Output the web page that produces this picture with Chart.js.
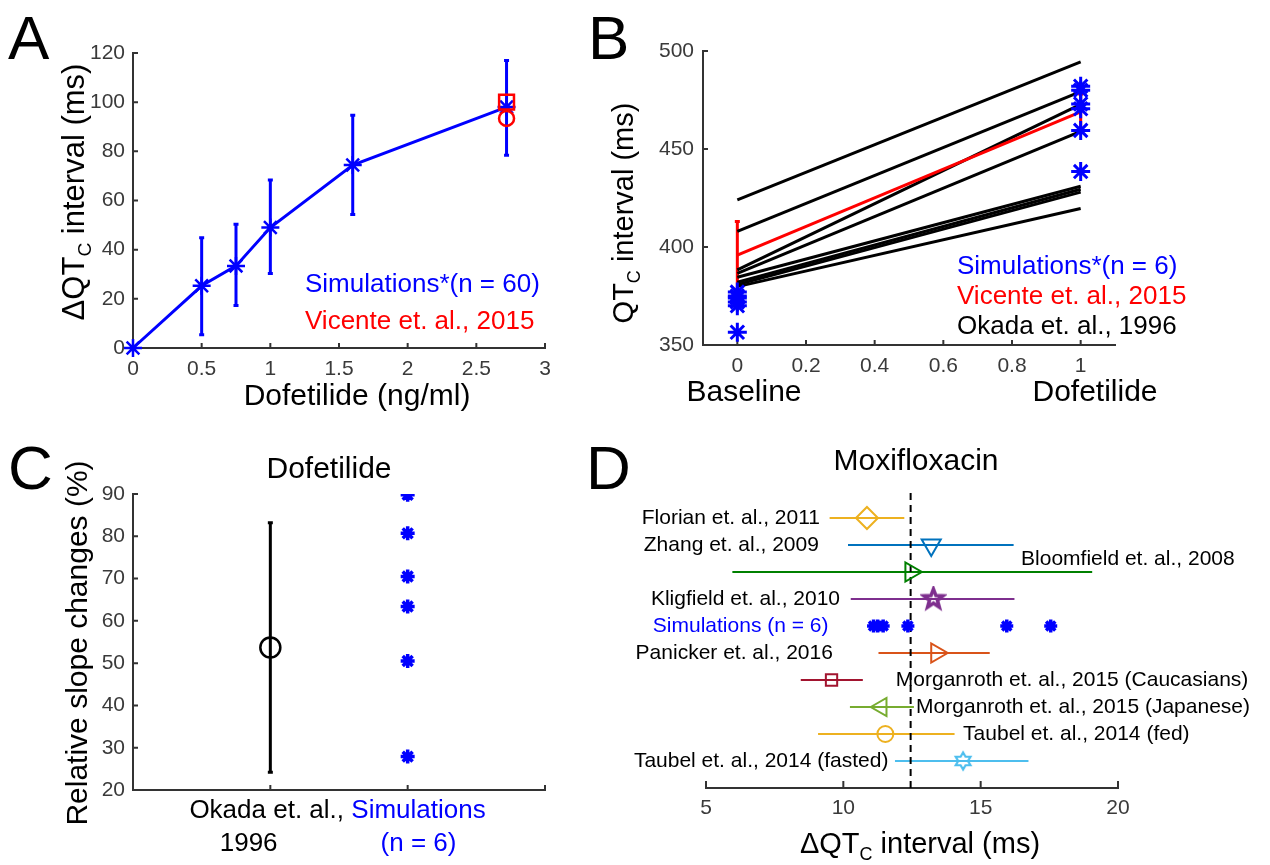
<!DOCTYPE html>
<html>
<head>
<meta charset="utf-8">
<script src="https://cdn.jsdelivr.net/npm/chart.js@4.4.1/dist/chart.umd.min.js"></script>
<style>
  html, body { margin: 0; padding: 0; background: #fff; }
  #wrap { position: relative; width: 1270px; height: 865px; overflow: hidden; }
  #wrap canvas { position: absolute; left: 0; top: 0; }
</style>
</head>
<body>
<div id="wrap">
  <canvas id="chartA" width="1270" height="865"></canvas>
  <canvas id="chartB" width="1270" height="865"></canvas>
  <canvas id="chartC" width="1270" height="865"></canvas>
  <canvas id="chartD" width="1270" height="865"></canvas>
</div>
<script>
// ---- Panel A: dofetilide dose response ----
const concA = [0, 0.5, 0.75, 1, 1.6, 2.72];
const dqtcA = [0, 25.3, 33.4, 49, 74.4, 98];
const dqtcLowA = [0, 5.4, 17.3, 30.3, 54.3, 78.4];
const dqtcHighA = [0, 44.8, 50.3, 68.3, 94.7, 117];
const vicenteConcA = 2.72;
const vicenteSquareA = 100;
const vicenteCircleA = 93.4;
const ticksAx = [0, 0.5, 1, 1.5, 2, 2.5, 3];
const ticksAy = [0, 20, 40, 60, 80, 100, 120];

// ---- Panel B: baseline vs dofetilide ----
const phaseB = [0, 1];
const simBaseB = [377, 375, 374, 372, 370, 356.5];
const simDofB = [482, 480, 473, 470.5, 459.5, 438.5];
const vicenteB = [395.8, 469];
const vicenteLowB = [378, 460];
const vicenteHighB = [413, 478];
const okadaBaseB = [424, 408, 388.3, 386.6, 384.6, 382, 380.8, 379.8];
const okadaDofB = [494.5, 479.3, 472.8, 459, 431, 429.5, 428, 419.6];
const ticksBx = [0, 0.2, 0.4, 0.6, 0.8, 1];
const ticksBy = [350, 400, 450, 500];

// ---- Panel C: relative slope changes ----
// padded like the original tick labels so the lines sit where they do there
const groupsC = [['Okada et. al., ', '1996      '], ['   Simulations', '   (n = 6)']];
const okadaSlopeC = 53.7;
const okadaLowC = 24.2;
const okadaHighC = 83.2;
const simSlopeC = [89.8, 80.7, 70.5, 63.4, 50.5, 27.9];
const ticksCx = [0, 1, 2, 3];
const ticksCy = [20, 30, 40, 50, 60, 70, 80, 90];

// ---- Panel D: moxifloxacin studies ----
const rowsD = ['Florian et. al., 2011', 'Zhang et. al., 2009', 'Bloomfield et. al., 2008',
  'Kligfield et. al., 2010', 'Simulations (n = 6)', 'Panicker et. al., 2016',
  'Morganroth et. al., 2015 (Caucasians)', 'Morganroth et. al., 2015 (Japanese)',
  'Taubel et. al., 2014 (fed)', 'Taubel et. al., 2014 (fasted)'];
const studiesD = ['Florian et. al., 2011', 'Zhang et. al., 2009', 'Bloomfield et. al., 2008',
  'Kligfield et. al., 2010', 'Panicker et. al., 2016', 'Morganroth et. al., 2015 (Caucasians)',
  'Morganroth et. al., 2015 (Japanese)', 'Taubel et. al., 2014 (fed)', 'Taubel et. al., 2014 (fasted)'];
const meanD = [10.86, 13.2, 12.46, 13.28, 13.4, 9.57, 11.38, 11.53, 14.36];
const lowD = [9.5, 10.17, 5.96, 10.27, 11.28, 8.45, 10.24, 9.08, 11.88];
const highD = [12.22, 16.2, 19.06, 16.23, 15.33, 10.71, 12.57, 14.05, 16.74];
const simMoxiD = [11.1, 11.25, 11.45, 12.35, 15.95, 17.55];
const refLineD = 12.45;
const ticksDx = [5, 10, 15, 20];

// ---- look ----
const W = 1270, H = 865;
const FONT = '"Liberation Sans", Arial, Helvetica, sans-serif';
const AXIS = '#333333', TICK = '#3a3a3a';
const BLUE = '#0000ff', RED = '#ff0000', BLACK = '#000000';

Chart.defaults.font.family = FONT;
Chart.defaults.animation = false;
Chart.defaults.events = [];
Chart.defaults.plugins.legend.display = false;
Chart.defaults.plugins.tooltip.enabled = false;

// marker images for the study markers that Chart.js does not have
function starImage(points, outer, inner, color, lw) {
  const size = Math.ceil(2 * (outer + lw));
  const c = document.createElement('canvas');
  c.width = c.height = size;
  const g = c.getContext('2d');
  g.translate(size / 2, size / 2);
  g.beginPath();
  for (let i = 0; i < points * 2; i++) {
    const r = i % 2 ? inner : outer;
    const a = -Math.PI / 2 + i * Math.PI / points;
    if (i) g.lineTo(r * Math.cos(a), r * Math.sin(a)); else g.moveTo(r * Math.cos(a), r * Math.sin(a));
  }
  g.closePath();
  g.strokeStyle = color;
  g.lineWidth = lw;
  g.stroke();
  return c;
}

const styleD = [
  { color: '#EDB120', style: 'rectRot', r: 11 },
  { color: '#0072BD', style: 'triangle', rot: 180, r: 11 },
  { color: '#008000', style: 'triangle', rot: 90, r: 11 },
  { color: '#7E2F8E', style: starImage(5, 10, 4.2, '#7E2F8E', 3.5), r: 9 },
  { color: '#D95319', style: 'triangle', rot: 90, r: 11 },
  { color: '#A2142F', style: 'rect', r: 8 },
  { color: '#77AC30', style: 'triangle', rot: 270, r: 10.5 },
  { color: '#EDB120', style: 'circle', r: 8 },
  { color: '#4DBEEE', style: starImage(6, 8.5, 4.9, '#4DBEEE', 2.2), r: 8 }
];
// where each row label sits (data units) and which side of it the text goes
const labelAnchorD = [
  { x: 9.15, dy: 0, align: 'right' },
  { x: 9.11, dy: 0, align: 'right' },
  { x: 16.47, dy: 0.48, align: 'left' },
  { x: 9.88, dy: 0, align: 'right' },
  { x: 9.46, dy: 0, align: 'right' },
  { x: 9.62, dy: 0, align: 'right' },
  { x: 11.91, dy: 0, align: 'left' },
  { x: 12.65, dy: 0, align: 'left' },
  { x: 14.36, dy: 0, align: 'left' },
  { x: 11.64, dy: 0, align: 'right' }
];

// ---- helpers ----
function font(size) { return size + 'px ' + FONT; }

function drawText(ctx, parts, x, y, o) {
  const size = o.size;
  ctx.save();
  ctx.translate(x, y);
  if (o.rotate) ctx.rotate(o.rotate);
  ctx.fillStyle = o.color || BLACK;
  ctx.textBaseline = o.baseline || 'middle';
  ctx.textAlign = 'left';
  const segs = (typeof parts === 'string' ? [{ t: parts }] : parts).map(p => {
    const s = p.sub ? size * 0.62 : size;
    ctx.font = font(s);
    return { t: p.t, s: s, dy: p.sub ? size * 0.33 : 0, w: ctx.measureText(p.t).width };
  });
  const total = segs.reduce((a, p) => a + p.w, 0);
  let cx = o.align === 'right' ? -total : o.align === 'left' ? 0 : -total / 2;
  segs.forEach(p => { ctx.font = font(p.s); ctx.fillText(p.t, cx, p.dy); cx += p.w; });
  ctx.restore();
}

function textPlugin(draw) {
  return { id: 'texts', afterDraw(chart) { draw(chart.ctx, chart); } };
}

function errorBarPlugin(bars) {
  return {
    id: 'errorBars',
    beforeDatasetsDraw(chart) {
      const { ctx, scales: { x, y } } = chart;
      ctx.save();
      bars.forEach(b => {
        const px = x.getPixelForValue(b.x);
        const p1 = y.getPixelForValue(b.lo), p2 = y.getPixelForValue(b.hi);
        ctx.strokeStyle = b.color;
        ctx.lineWidth = b.width;
        ctx.beginPath();
        ctx.moveTo(px, p1); ctx.lineTo(px, p2);
        ctx.moveTo(px - b.cap, p1); ctx.lineTo(px + b.cap, p1);
        ctx.moveTo(px - b.cap, p2); ctx.lineTo(px + b.cap, p2);
        ctx.stroke();
      });
      ctx.restore();
    }
  };
}

// MATLAB style ticks pointing into the axes
function inwardTicks(len, withY) {
  return {
    id: 'inwardTicks',
    beforeDatasetsDraw(chart) {
      const { ctx, chartArea: a, scales: { x, y } } = chart;
      ctx.save();
      ctx.strokeStyle = AXIS;
      ctx.lineWidth = 2;
      ctx.beginPath();
      x.ticks.forEach(t => {
        const px = x.getPixelForValue(t.value);
        ctx.moveTo(px, a.bottom); ctx.lineTo(px, a.bottom - len);
      });
      if (withY) {
        y.ticks.forEach(t => {
          const py = y.getPixelForValue(t.value);
          ctx.moveTo(a.left, py); ctx.lineTo(a.left + len, py);
        });
      }
      ctx.stroke();
      ctx.restore();
    }
  };
}

function layoutFor(box) {
  return { autoPadding: false, padding: { left: 0, top: box.top, right: W - box.right, bottom: 0 } };
}

function axis(min, max, tickValues, fit, tickOpts, display) {
  return {
    type: 'linear', min: min, max: max,
    display: display !== false,
    afterBuildTicks: s => { s.ticks = tickValues.map(v => ({ value: v })); },
    afterFit: fit,
    grid: { display: false, drawTicks: false },
    border: { display: true, color: AXIS, width: 2 },
    ticks: Object.assign({
      autoSkip: false, maxRotation: 0, color: TICK, font: { size: 21 }, padding: 8,
      callback: v => String(v)
    }, tickOpts || {})
  };
}

function pts(xs, ys) { return xs.map((x, i) => ({ x: x, y: ys[i] })); }

// ---- Panel A ----
const boxA = { left: 133, top: 53, right: 545, bottom: 348 };
new Chart(document.getElementById('chartA'), {
  type: 'scatter',
  data: {
    datasets: [
      { data: [{ x: vicenteConcA, y: vicenteSquareA }], pointStyle: 'rect', pointRadius: 10.5,
        pointBorderColor: RED, pointBackgroundColor: 'rgba(0,0,0,0)', pointBorderWidth: 2.5, clip: false, order: 0 },
      { data: [{ x: vicenteConcA, y: vicenteCircleA }], pointStyle: 'circle', pointRadius: 7.5,
        pointBorderColor: RED, pointBackgroundColor: 'rgba(0,0,0,0)', pointBorderWidth: 2.5, clip: false, order: 0 },
      { data: pts(concA, dqtcA), showLine: true, borderColor: BLUE, borderWidth: 3,
        pointStyle: 'star', pointRadius: 9, pointBorderColor: BLUE, pointBorderWidth: 2.5, clip: false, order: 1 }
    ]
  },
  options: {
    responsive: false,
    layout: layoutFor(boxA),
    scales: {
      x: axis(0, 3, ticksAx, s => { s.height = H - boxA.bottom; }, { padding: 9 }),
      y: axis(0, 120, ticksAy, s => { s.width = boxA.left; })
    }
  },
  plugins: [
    inwardTicks(5, true),
    errorBarPlugin(concA.map((c, i) => ({ x: c, lo: dqtcLowA[i], hi: dqtcHighA[i], color: BLUE, width: 3, cap: 2.5 }))
      .filter(b => b.hi > b.lo)),
    textPlugin(ctx => {
      drawText(ctx, 'A', 8, 59, { size: 62, align: 'left', baseline: 'alphabetic' });
      drawText(ctx, [{ t: '\u0394QT' }, { t: 'C', sub: true }, { t: ' interval (ms)' }], 75, 192,
        { size: 31, rotate: -Math.PI / 2 });
      drawText(ctx, 'Dofetilide (ng/ml)', 357, 397, { size: 30 });
      drawText(ctx, 'Simulations*(n = 60)', 305, 285, { size: 26, align: 'left', color: BLUE });
      drawText(ctx, 'Vicente et. al., 2015', 305, 322, { size: 26, align: 'left', color: RED });
    })
  ]
});

// ---- Panel B ----
const boxB = { left: 703, top: 51, right: 1115, bottom: 345 };
const okadaSetsB = okadaBaseB.map((b, i) => ({
  data: pts(phaseB, [b, okadaDofB[i]]), showLine: true, borderColor: BLACK, borderWidth: 3,
  pointRadius: 0, order: 3
}));
new Chart(document.getElementById('chartB'), {
  type: 'scatter',
  data: {
    datasets: okadaSetsB.concat([
      { data: pts(phaseB, vicenteB), showLine: true, borderColor: RED, borderWidth: 3, pointRadius: 0, order: 2 },
      { data: simBaseB.map(v => ({ x: phaseB[0], y: v })).concat(simDofB.map(v => ({ x: phaseB[1], y: v }))),
        pointStyle: 'star', pointRadius: 9.5, pointBorderColor: BLUE, pointBorderWidth: 3, clip: false, order: 0 }
    ])
  },
  options: {
    responsive: false,
    layout: layoutFor(boxB),
    scales: {
      x: axis(-0.1, 1.1, ticksBx, s => { s.height = H - boxB.bottom; }, { padding: 9 }),
      y: axis(350, 500, ticksBy, s => { s.width = boxB.left; }, { padding: 9 })
    }
  },
  plugins: [
    inwardTicks(5, true),
    errorBarPlugin(phaseB.map((p, i) => ({ x: p, lo: vicenteLowB[i], hi: vicenteHighB[i], color: RED, width: 3, cap: 2.5 }))),
    textPlugin(ctx => {
      drawText(ctx, 'B', 588, 59, { size: 62, align: 'left', baseline: 'alphabetic' });
      drawText(ctx, [{ t: 'QT' }, { t: 'C', sub: true }, { t: ' interval (ms)' }], 625, 213,
        { size: 29, rotate: -Math.PI / 2 });
      drawText(ctx, 'Baseline', 744, 393, { size: 30 });
      drawText(ctx, 'Dofetilide', 1095, 393, { size: 30 });
      drawText(ctx, 'Simulations*(n = 6)', 957, 267, { size: 26, align: 'left', color: BLUE });
      drawText(ctx, 'Vicente et. al., 2015', 957, 297, { size: 26, align: 'left', color: RED });
      drawText(ctx, 'Okada et. al., 1996', 957, 327, { size: 26, align: 'left', color: BLACK });
    })
  ]
});

// ---- Panel C ----
const boxC = { left: 133, top: 494, right: 545, bottom: 790 };
new Chart(document.getElementById('chartC'), {
  type: 'scatter',
  data: {
    datasets: [
      { data: [{ x: 1, y: okadaSlopeC }], pointStyle: 'circle', pointRadius: 10,
        pointBorderColor: BLACK, pointBackgroundColor: 'rgba(0,0,0,0)', pointBorderWidth: 2.5, order: 1 },
      { data: simSlopeC.map(v => ({ x: 2, y: v })), pointStyle: 'star', pointRadius: 7,
        pointBorderColor: BLUE, pointBorderWidth: 3.5, order: 0 }
    ]
  },
  options: {
    responsive: false,
    layout: layoutFor(boxC),
    scales: {
      x: axis(0, 3, ticksCx, s => { s.height = H - boxC.bottom; }, {
        font: { size: 26, lineHeight: 1.27 }, padding: 4,
        color: c => (c.tick && c.tick.value === 2 ? BLUE : BLACK),
        callback: v => (v === 1 ? groupsC[0] : v === 2 ? groupsC[1] : '')
      }),
      y: axis(20, 90, ticksCy, s => { s.width = boxC.left; })
    }
  },
  plugins: [
    inwardTicks(5, true),
    errorBarPlugin([{ x: 1, lo: okadaLowC, hi: okadaHighC, color: BLACK, width: 3, cap: 2.5 }]),
    textPlugin(ctx => {
      drawText(ctx, 'C', 8, 489, { size: 62, align: 'left', baseline: 'alphabetic' });
      drawText(ctx, 'Dofetilide', 329, 470, { size: 30 });
      drawText(ctx, 'Relative slope changes (%)', 79, 643, { size: 30, rotate: -Math.PI / 2 });
    })
  ]
});

// ---- Panel D ----
const boxD = { left: 706, top: 491, right: 1118, bottom: 788 };
const rowOf = name => rowsD.length - rowsD.indexOf(name);
const simRowD = rowOf('Simulations (n = 6)');
const dSets = [];
studiesD.forEach((name, i) => {
  const row = rowOf(name), st = styleD[i];
  dSets.push({ data: [{ x: lowD[i], y: row }, { x: highD[i], y: row }], showLine: true,
    borderColor: st.color, borderWidth: 2, pointRadius: 0, order: 3 });
  dSets.push({ data: [{ x: meanD[i], y: row }], pointStyle: st.style, pointRotation: st.rot || 0,
    pointRadius: st.r, pointBorderColor: st.color, pointBackgroundColor: 'rgba(0,0,0,0)',
    pointBorderWidth: 2, order: 1 });
});
dSets.push({ data: simMoxiD.map(v => ({ x: v, y: simRowD })), pointStyle: 'star', pointRadius: 6.5,
  pointBorderColor: BLUE, pointBorderWidth: 3.5, order: 0 });
dSets.push({ data: [{ x: refLineD, y: 0 }, { x: refLineD, y: rowsD.length + 1 }], showLine: true,
  borderColor: BLACK, borderWidth: 2, borderDash: [7, 5], pointRadius: 0, order: 2 });

new Chart(document.getElementById('chartD'), {
  type: 'scatter',
  data: { datasets: dSets },
  options: {
    responsive: false,
    layout: layoutFor(boxD),
    scales: {
      x: axis(5, 20, ticksDx, s => { s.height = H - boxD.bottom; }, { padding: 8 }),
      y: axis(0, rowsD.length + 1, [], s => { s.width = boxD.left; }, {}, false)
    }
  },
  plugins: [
    inwardTicks(7, false),
    textPlugin((ctx, chart) => {
      const { x, y } = chart.scales;
      drawText(ctx, 'D', 586, 489, { size: 62, align: 'left', baseline: 'alphabetic' });
      drawText(ctx, 'Moxifloxacin', 916, 462, { size: 30 });
      drawText(ctx, [{ t: '\u0394QT' }, { t: 'C', sub: true }, { t: ' interval (ms)' }], 920, 845, { size: 29 });
      rowsD.forEach((name, i) => {
        const a = labelAnchorD[i];
        drawText(ctx, name, x.getPixelForValue(a.x), y.getPixelForValue(rowOf(name) + a.dy),
          { size: 21, align: a.align, color: name.startsWith('Simulations') ? BLUE : BLACK });
      });
    })
  ]
});
</script>
</body>
</html>
